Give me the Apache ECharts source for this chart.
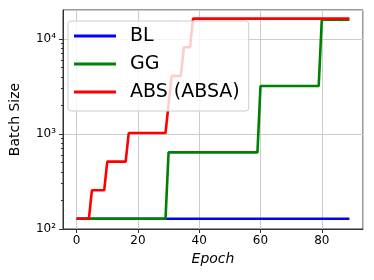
<!DOCTYPE html>
<html>
<head>
<meta charset="utf-8">
<script src="https://cdn.jsdelivr.net/npm/echarts@6/dist/echarts.min.js"></script>
<style>
html,body{margin:0;padding:0;background:#fff;}
#chart{width:374px;height:280px;}
</style>
</head>
<body>
<div id="chart"></div>
<script>
// Series (epoch, batch size) breakpoints
const seriesNames = ['BL', 'GG', 'ABS (ABSA)'];
const blEpochs = [0, 89];
const blSizes = [128, 128];
const ggEpochs = [0, 29, 30, 59, 60, 79, 80, 89];
const ggSizes = [128, 128, 640, 640, 3200, 3200, 16000, 16000];
const absEpochs = [0, 4, 5, 9, 10, 16, 17, 29, 30, 31, 34, 35, 37, 38, 89];
const absSizes = [128, 128, 256, 256, 512, 512, 1024, 1024, 2048, 4096, 4096, 8192, 8192, 16384, 16384];
const minorTickValues = [200, 300, 400, 500, 600, 700, 800, 900, 2000, 3000, 4000, 5000, 6000, 7000, 8000, 9000];
const xAxisName = 'Epoch';
const yAxisName = 'Batch Size';
const colors = ['#0000ff', '#008000', '#ff0000'];

function pairs(xs, ys) { return xs.map((x, i) => [x, ys[i]]); }
const sup = {'0':'⁰','1':'¹','2':'²','3':'³','4':'⁴','5':'⁵'};

const chart = echarts.init(document.getElementById('chart'), null, {renderer: 'canvas'});
const font = 'DejaVu Sans';
chart.setOption({
  animation: false,
  backgroundColor: '#ffffff',
  textStyle: {fontFamily: font},
  grid: {left: 58, right: 11, top: 10, bottom: 51, show: true, borderColor: '#333', borderWidth: 1, backgroundColor: 'transparent'},
  legend: {
    orient: 'vertical', left: 68, top: 21, z: 10,
    padding: [5, 9, 9, 6],
    itemWidth: 42, itemHeight: 3, itemGap: 8,
    icon: 'rect',
    backgroundColor: 'rgba(255,255,255,0.8)',
    borderColor: '#cccccc', borderWidth: 1, borderRadius: 3,
    textStyle: {fontFamily: font, fontSize: 19, color: '#000', lineHeight: 20, padding: [0, 0, 0, 9]},
    data: seriesNames
  },
  xAxis: {
    type: 'value', min: -4.45, max: 93.45,
    name: xAxisName, nameLocation: 'middle', nameGap: 23,
    nameTextStyle: {fontFamily: font, fontSize: 14, fontStyle: 'italic', color: '#000'},
    axisLine: {show: true, onZero: false, lineStyle: {color: '#333', width: 1}},
    axisTick: {show: true, length: 4, lineStyle: {color: '#333'}},
    axisLabel: {fontFamily: font, fontSize: 12, color: '#000', margin: 6, showMinLabel: false, showMaxLabel: false},
    splitLine: {show: true, lineStyle: {color: '#cccccc', width: 1}}
  },
  yAxis: [{
    type: 'log', min: 100, max: 20200,
    name: yAxisName, nameLocation: 'middle', nameGap: 41, nameRotate: 90,
    nameTextStyle: {fontFamily: font, fontSize: 14, color: '#000'},
    axisLine: {show: true, onZero: false, lineStyle: {color: '#333', width: 1}},
    axisTick: {show: true, length: 4, lineStyle: {color: '#333'}},
    axisLabel: {
      fontFamily: font, fontSize: 12, color: '#000', margin: 7, showMaxLabel: false,
      formatter: function (v) {
        const e = Math.log10(v);
        if (Math.abs(e - Math.round(e)) > 1e-6) return '';
        return '10' + String(Math.round(e)).split('').map(c => sup[c]).join('');
      }
    },
    splitLine: {show: true, lineStyle: {color: '#cccccc', width: 1}}
  }, {
    type: 'log', min: 100, max: 20200, position: 'left', offset: 0,
    axisLine: {show: false, onZero: false},
    axisLabel: {show: false},
    splitLine: {show: false},
    axisTick: {show: true, length: 2, customValues: minorTickValues, lineStyle: {color: '#333'}}
  }],
  series: [
    {name: seriesNames[0], type: 'line', data: pairs(blEpochs, blSizes), showSymbol: false, symbol: 'none', lineStyle: {color: colors[0], width: 2.6}, itemStyle: {color: colors[0]}},
    {name: seriesNames[1], type: 'line', data: pairs(ggEpochs, ggSizes), showSymbol: false, symbol: 'none', lineStyle: {color: colors[1], width: 2.6}, itemStyle: {color: colors[1]}},
    {name: seriesNames[2], type: 'line', data: pairs(absEpochs, absSizes), showSymbol: false, symbol: 'none', lineStyle: {color: colors[2], width: 2.6}, itemStyle: {color: colors[2]}}
  ]
});
</script>
</body>
</html>
